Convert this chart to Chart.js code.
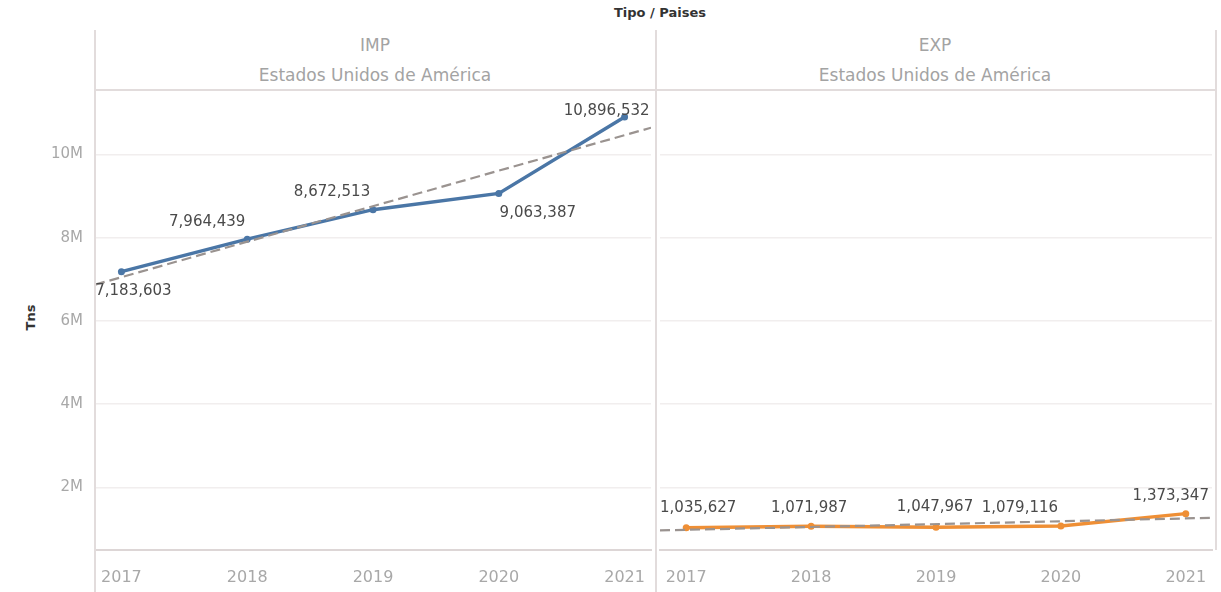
<!DOCTYPE html>
<html>
<head>
<meta charset="utf-8">
<script src="https://cdn.jsdelivr.net/npm/chart.js@4.4.1/dist/chart.umd.min.js"></script>
<style>
  html, body { margin: 0; padding: 0; background: #fff; }
  body { width: 1221px; height: 592px; position: relative; overflow: hidden; font-family: 'DejaVu Sans', sans-serif; }
  .abs { position: absolute; }
  .vline { position: absolute; width: 2px; background: #e2dcdc; }
  .hline { position: absolute; height: 2px; background: #e2dcdc; }
  .hdr { position: absolute; text-align: center; color: #a3a3a3; font-size: 17px; }
  #title { left: 560px; width: 200px; top: 5px; text-align: center; font-size: 13px; font-weight: bold; color: #333; }
  #ylabel { left: 12px; top: 310px; width: 36px; text-align: center; font-size: 13px; font-weight: bold; color: #333; transform: rotate(-90deg); }
</style>
</head>
<body>
<div id="title" class="abs">Tipo / Paises</div>

<div class="hdr" style="left:95px;width:560px;top:35px;">IMP</div>
<div class="hdr" style="left:95px;width:560px;top:65px;">Estados Unidos de América</div>
<div class="hdr" style="left:656px;width:558px;top:35px;">EXP</div>
<div class="hdr" style="left:656px;width:558px;top:65px;">Estados Unidos de América</div>

<div id="ylabel" class="abs">Tns</div>

<canvas id="impChart" class="abs" style="left:0;top:90px;"></canvas>
<canvas id="expChart" class="abs" style="left:656px;top:90px;"></canvas>

<div class="vline" style="left:94px;top:30px;height:562px;"></div>
<div class="vline" style="left:655px;top:30px;height:562px;"></div>
<div class="vline" style="left:1215px;top:30px;height:520px;"></div>
<div class="hline" style="left:95px;top:89px;width:1122px;"></div>

<script>
const years = [2017, 2018, 2019, 2020, 2021];
const impValues = [7183603, 7964439, 8672513, 9063387, 10896532];
const expValues = [1035627, 1071987, 1047967, 1079116, 1373347];
const yTicks = [2000000, 4000000, 6000000, 8000000, 10000000];

const X_MIN = 2016.79;
const X_MAX = 2021.21;
const Y_MIN = 500000;
const Y_MAX = 11450000;

// label offsets from each point (dx, dy) in pixels
const impLabelOffsets = [[12, 19], [-40, -17], [-41, -18], [39, 20], [-18, -6]];
const expLabelOffsets = [[12, -20], [-2, -18], [-1, -20], [-41, -18], [-15, -18]];

// least squares trend, like the reference's trend line
function trendLine(xs, ys) {
  const n = xs.length;
  const mx = xs.reduce((a, b) => a + b, 0) / n;
  const my = ys.reduce((a, b) => a + b, 0) / n;
  let num = 0, den = 0;
  xs.forEach((x, i) => { num += (x - mx) * (ys[i] - my); den += (x - mx) ** 2; });
  const slope = num / den;
  return [X_MIN, X_MAX].map((x) => ({ x, y: my + slope * (x - mx) }));
}

const fmt = (v) => v.toLocaleString('en-US');

const dataLabels = {
  id: 'dataLabels',
  afterDatasetsDraw(chart) {
    const { ctx } = chart;
    chart.data.datasets.forEach((ds, di) => {
      if (!ds.labelOffsets) return;
      const meta = chart.getDatasetMeta(di);
      ctx.save();
      ctx.font = '15px "DejaVu Sans"';
      ctx.fillStyle = '#4a4a4a';
      ctx.textAlign = 'center';
      ctx.textBaseline = 'middle';
      meta.data.forEach((pt, i) => {
        const [dx, dy] = ds.labelOffsets[i];
        ctx.fillText(fmt(ds.data[i].y), pt.x + dx, pt.y + dy);
      });
      ctx.restore();
    });
  },
};

function noPad(scale) {
  scale.paddingTop = 0;
  scale.paddingBottom = 0;
  scale.paddingLeft = 0;
  scale.paddingRight = 0;
}

function makeChart(id, values, color, offsets, width, showY) {
  const canvas = document.getElementById(id);
  canvas.width = width;
  canvas.height = 502;
  canvas.style.width = width + 'px';
  canvas.style.height = '502px';
  return new Chart(canvas, {
    type: 'line',
    data: {
      datasets: [
        {
          data: trendLine(years, values),
          borderColor: '#9a9390',
          borderWidth: 2.2,
          borderDash: [10, 5],
          pointRadius: 0,
          fill: false,
        },
        {
          data: years.map((y, i) => ({ x: y, y: values[i] })),
          labelOffsets: offsets,
          borderColor: color,
          backgroundColor: color,
          borderWidth: 3.5,
          pointRadius: 3.5,
          pointBorderWidth: 0,
          tension: 0,
          fill: false,
        },
      ],
    },
    options: {
      responsive: false,
      animation: false,
      layout: { padding: 0 },
      plugins: { legend: { display: false }, tooltip: { enabled: false } },
      scales: {
        x: {
          type: 'linear',
          min: X_MIN,
          max: X_MAX,
          afterBuildTicks(scale) { scale.ticks = years.map((v) => ({ value: v })); },
          afterFit(scale) { scale.height = 42; noPad(scale); },
          grid: { display: false },
          border: { display: true, color: '#ddd6d6', width: 2 },
          ticks: {
            color: '#a8a8a8',
            font: { family: 'DejaVu Sans', size: 16 },
            padding: 10,
            maxRotation: 0,
            autoSkip: false,
            callback: (v) => String(v),
          },
        },
        y: {
          min: Y_MIN,
          max: Y_MAX,
          afterBuildTicks(scale) { scale.ticks = yTicks.map((v) => ({ value: v })); },
          afterFit(scale) { scale.width = showY ? 95 : 0; noPad(scale); },
          grid: { color: '#f1eeee', lineWidth: 1.5, drawTicks: false },
          border: { display: false },
          ticks: {
            display: showY,
            color: '#a8a8a8',
            font: { family: 'DejaVu Sans', size: 15 },
            padding: 12,
            callback: (v) => v / 1000000 + 'M',
          },
        },
      },
    },
    plugins: [dataLabels],
  });
}

makeChart('impChart', impValues, '#4a76a6', impLabelOffsets, 655, true);
makeChart('expChart', expValues, '#ef8f35', expLabelOffsets, 560, false);
</script>
</body>
</html>
